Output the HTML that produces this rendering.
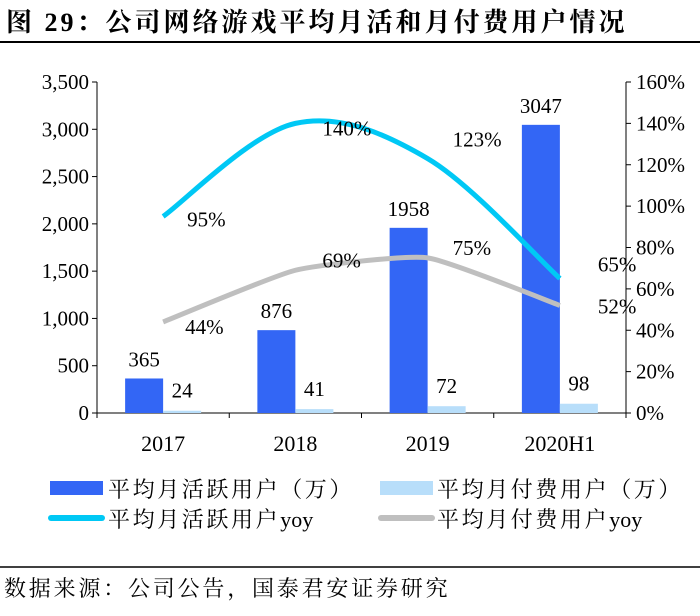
<!DOCTYPE html>
<html><head><meta charset="utf-8"><style>
body{margin:0;background:#fff;width:700px;height:611px;overflow:hidden}
svg text{font-family:"Liberation Serif","Noto Serif CJK SC",serif;fill:#000}
</style></head><body>
<svg width="700" height="611">
<text x="6" y="31" font-size="26" font-weight="bold" letter-spacing="3">图 29：公司网络游戏平均月活和月付费用户情况</text>
<line x1="0" y1="42" x2="700" y2="42" stroke="#000" stroke-width="2"/>
<g id="plot"></g>
<g>
<rect x="50" y="481" width="53" height="14" fill="#3366f5"/>
<text x="108" y="497" font-size="22" letter-spacing="2.6">平均月活跃用户（万）</text>
<rect x="380" y="481" width="53" height="14" fill="#b8defa"/>
<text x="437" y="497" font-size="22" letter-spacing="2.6">平均月付费用户（万）</text>
<line x1="51" y1="518" x2="102" y2="518" stroke="#00c8f5" stroke-width="6" stroke-linecap="round"/>
<text x="108" y="527" font-size="22" letter-spacing="2.6">平均月活跃用户<tspan letter-spacing="0">yoy</tspan></text>
<line x1="381" y1="518" x2="432" y2="518" stroke="#bfbfbf" stroke-width="6" stroke-linecap="round"/>
<text x="437" y="527" font-size="22" letter-spacing="2.6">平均月付费用户<tspan letter-spacing="0">yoy</tspan></text>
</g>
<line x1="0" y1="567" x2="700" y2="567" stroke="#000" stroke-width="1.5"/>
<text x="4" y="596" font-size="22" letter-spacing="2.8">数据来源：公司公告，国泰君安证券研究</text>
</svg>
<script>
const categories=["2017","2018","2019","2020H1"];
const mau=[365,876,1958,3047];
const paying=[24,41,72,98];
const mauYoy=[95,140,123,65];
const payYoy=[44,69,75,52];
const leftTicks=[0,500,1000,1500,2000,2500,3000,3500];
const leftTickLabels=["0","500","1,000","1,500","2,000","2,500","3,000","3,500"];
const rightTicks=[0,20,40,60,80,100,120,140,160];

const NS="http://www.w3.org/2000/svg";
const g=document.getElementById('plot');
const x0=97,x1=626,yB=413,yT=82;
const yL=v=>yB-(v/3500)*(yB-yT);
const yR=v=>yB-(v/160)*(yB-yT);
const bw=(x1-x0)/categories.length;
const xc=i=>x0+bw*(i+0.5);
const FS=21;
function el(t,a,txt){const e=document.createElementNS(NS,t);for(const k in a)e.setAttribute(k,a[k]);if(txt!==undefined)e.textContent=txt;g.appendChild(e);return e;}

let e=el('line',{x1:x0,y1:yT,x2:x0,y2:yB,stroke:'#000'});


e=el('line',{x1:x1,y1:yT,x2:x1,y2:yB,stroke:'#000'});


e=el('line',{x1:x0,y1:yB,x2:x1,y2:yB,stroke:'#000'});


leftTicks.forEach((v,i)=>{
  el('line',{x1:x0-5,y1:yL(v),x2:x0,y2:yL(v),stroke:'#000'});
  const t=el('text',{x:x0-8,y:yL(v)+7,'font-size':FS,'text-anchor':'end'},leftTickLabels[i]);
  
  
});
rightTicks.forEach(v=>{
  el('line',{x1:x1,y1:yR(v),x2:x1+5,y2:yR(v),stroke:'#000'});
  const t=el('text',{x:x1+10,y:yR(v)+7,'font-size':FS},v+'%');
  
  
});
categories.forEach((c,i)=>{
  el('line',{x1:x0+bw*i,y1:yB,x2:x0+bw*i,y2:yB+5,stroke:'#000'});
  const t=el('text',{x:xc(i),y:yB+38,'font-size':22,'text-anchor':'middle'},c);
  
  
});
el('line',{x1:x1,y1:yB,x2:x1,y2:yB+5,stroke:'#000'});
categories.forEach((c,i)=>{
  const b=el('rect',{x:xc(i)-38,y:yL(mau[i]),width:38,height:yB-yL(mau[i]),fill:'#3366f5'});
  
  
  const p=el('rect',{x:xc(i),y:yL(paying[i]),width:38,height:yB-yL(paying[i]),fill:'#b8defa'});
  
  
  const t=el('text',{x:xc(i)-19,y:yL(mau[i])-12,'font-size':FS,'text-anchor':'middle'},mau[i]);
  
  
  const t2=el('text',{x:xc(i)+19,y:yL(paying[i])-13,'font-size':FS,'text-anchor':'middle'},paying[i]);
  
  
});
function smooth(pts,k){let d='M'+pts[0][0]+','+pts[0][1];for(let i=0;i<pts.length-1;i++){const p0=pts[Math.max(0,i-1)],p1=pts[i],p2=pts[i+1],p3=pts[Math.min(pts.length-1,i+2)];const c1=[p1[0]+(p2[0]-p0[0])*k,p1[1]+(p2[1]-p0[1])*k],c2=[p2[0]-(p3[0]-p1[0])*k,p2[1]-(p3[1]-p1[1])*k];d+=` C${c1[0]},${c1[1]} ${c2[0]},${c2[1]} ${p2[0]},${p2[1]}`;}return d;}
const gp=el('path',{d:smooth(payYoy.map((v,i)=>[xc(i),yR(v)]),0.08),fill:'none',stroke:'#bfbfbf','stroke-width':5});


const cp=el('path',{d:smooth(mauYoy.map((v,i)=>[xc(i),yR(v)]),1/6),fill:'none',stroke:'#00c8f5','stroke-width':5});


const mOff=[[24,10],[27,12],[25,-12],[38,-7]];
mauYoy.forEach((v,i)=>{
  const t=el('text',{x:xc(i)+mOff[i][0],y:yR(v)+mOff[i][1],'font-size':FS},v+'%');
  
  
});
const pOff=[[22,12],[27,-3],[25,-3],[38,8]];
payYoy.forEach((v,i)=>{
  const t=el('text',{x:xc(i)+pOff[i][0],y:yR(v)+pOff[i][1],'font-size':FS},v+'%');
  
  
});
</script>
</body></html>
